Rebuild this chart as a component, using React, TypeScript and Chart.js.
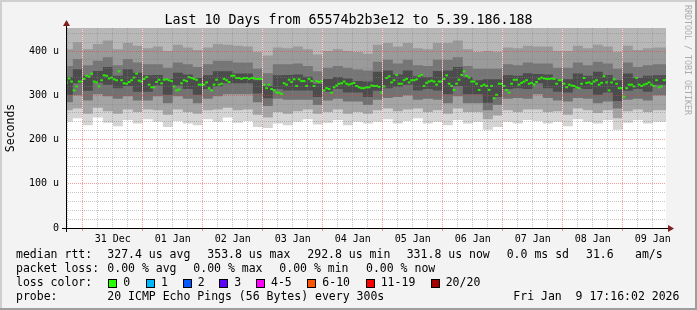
import React, { useEffect, useRef } from 'react';
import { Chart, registerables } from 'chart.js';

Chart.register(...registerables);

// ---------- data (time axis in hours relative to 31 Dec 00:00) ----------
const X_MIN = -6.733; // Fri Dec 30 17:16:02
const X_MAX = 233.267; // Fri Jan 9 17:16:02
const MEDIAN_START_HOUR = -7;
const SMOKE_START_HOUR = -8;
const SMOKE_BIN_HOURS = 4;

// hourly median RTT (microseconds)
const MEDIAN_DEC30 = [329, 338, 331, 311, 320, 331, 331];
const MEDIAN_DEC31 = [337, 344, 342, 349, 331, 329, 320, 334, 345, 344, 338, 340, 336, 334, 354, 334, 327, 326, 330, 334, 340, 349, 333, 331];
const MEDIAN_JAN01 = [337, 341, 324, 318, 318, 330, 335, 327, 335, 336, 334, 332, 320, 311, 313, 327, 334, 332, 341, 339, 337, 335, 324, 324];
const MEDIAN_JAN02 = [324, 329, 316, 311, 324, 335, 324, 326, 337, 334, 330, 344, 344, 339, 339, 337, 339, 339, 337, 339, 339, 337, 337, 337];
const MEDIAN_JAN03 = [324, 316, 324, 314, 311, 306, 306, 303, 327, 324, 335, 330, 336, 321, 336, 332, 332, 321, 337, 332, 321, 332, 330, 332];
const MEDIAN_JAN04 = [311, 316, 314, 306, 318, 322, 326, 327, 331, 326, 324, 326, 328, 321, 318, 316, 316, 318, 318, 322, 321, 321, 319, 306];
const MEDIAN_JAN05 = [320, 339, 343, 329, 334, 346, 326, 326, 334, 337, 329, 334, 334, 336, 343, 346, 321, 328, 331, 333, 331, 324, 331, 331];
const MEDIAN_JAN06 = [337, 345, 326, 321, 312, 326, 335, 346, 354, 344, 340, 331, 331, 326, 312, 321, 324, 321, 312, 321, 293, 301, 326, 326];
const MEDIAN_JAN07 = [321, 312, 306, 326, 335, 335, 324, 328, 331, 334, 326, 328, 324, 330, 337, 340, 338, 337, 337, 338, 337, 326, 334, 334];
const MEDIAN_JAN08 = [326, 318, 324, 322, 321, 318, 316, 326, 339, 328, 329, 326, 331, 334, 324, 328, 343, 329, 311, 329, 336, 326, 316, 316];
const MEDIAN_JAN09 = [297, 316, 324, 324, 320, 339, 324, 321, 324, 326, 329, 324, 321, 334, 318, 320, 334, 335];

// smoke: ping distribution boundaries per 4-hour bin (microseconds)
const SMOKE_P0 = [236, 240, 248, 232, 250, 238, 230, 244, 236, 246, 240, 228, 242, 236, 232, 246, 240, 250, 238, 242, 228, 226, 236, 232, 240, 246, 234, 238, 244, 232, 240, 236, 240, 246, 236, 242, 248, 236, 240, 232, 244, 236, 240, 222, 228, 240, 236, 244, 242, 236, 240, 230, 246, 240, 236, 244, 222, 238, 244, 236, 240];
const SMOKE_P1 = [262, 266, 270, 258, 272, 264, 258, 268, 262, 268, 266, 256, 268, 262, 258, 266, 268, 272, 266, 268, 256, 250, 262, 258, 264, 268, 258, 262, 268, 258, 262, 258, 266, 270, 264, 268, 270, 262, 266, 258, 270, 262, 262, 246, 254, 266, 262, 268, 268, 262, 264, 256, 270, 266, 260, 266, 248, 264, 268, 262, 266];
const SMOKE_P2 = [294, 284, 300, 288, 302, 298, 292, 298, 288, 288, 298, 282, 298, 292, 282, 292, 298, 302, 302, 302, 284, 276, 292, 290, 290, 290, 278, 288, 292, 286, 286, 278, 290, 294, 296, 300, 290, 292, 290, 282, 298, 282, 282, 266, 278, 292, 294, 292, 302, 294, 288, 286, 294, 292, 282, 286, 270, 290, 292, 288, 300];
const SMOKE_P3 = [319, 301, 327, 310, 328, 324, 316, 321, 308, 308, 322, 301, 322, 314, 301, 314, 320, 327, 327, 327, 304, 293, 314, 311, 311, 311, 296, 308, 314, 306, 306, 296, 310, 316, 319, 324, 311, 314, 311, 302, 321, 302, 302, 283, 296, 314, 316, 314, 327, 316, 308, 306, 316, 314, 301, 306, 287, 310, 314, 308, 324];
const SMOKE_P4 = [348, 341, 359, 344, 355, 364, 344, 359, 351, 345, 346, 337, 351, 347, 339, 345, 354, 354, 349, 349, 334, 321, 345, 346, 347, 342, 326, 337, 341, 338, 332, 331, 353, 356, 347, 356, 343, 341, 355, 356, 364, 341, 334, 336, 336, 345, 344, 350, 348, 347, 336, 336, 349, 344, 353, 346, 334, 349, 339, 344, 345];
const SMOKE_P5 = [372, 366, 382, 368, 378, 386, 368, 382, 374, 370, 370, 362, 374, 370, 364, 370, 378, 378, 374, 374, 360, 350, 370, 370, 372, 366, 354, 362, 366, 362, 358, 356, 376, 380, 372, 380, 368, 366, 380, 380, 386, 366, 360, 360, 360, 370, 368, 374, 372, 372, 362, 362, 374, 368, 376, 372, 360, 374, 364, 368, 370];
const SMOKE_P6 = [408, 404, 420, 404, 416, 424, 404, 418, 412, 406, 410, 400, 414, 408, 402, 408, 416, 414, 412, 410, 398, 390, 408, 406, 410, 404, 392, 400, 404, 400, 398, 394, 414, 418, 410, 418, 406, 404, 418, 418, 424, 404, 398, 400, 398, 408, 406, 412, 410, 410, 400, 400, 412, 406, 414, 410, 398, 412, 402, 406, 408];

const DAY_LABELS = ['31 Dec', '01 Jan', '02 Jan', '03 Jan', '04 Jan', '05 Jan', '06 Jan', '07 Jan', '08 Jan', '09 Jan'];
const Y_TICK_LABELS = ['0', '100 u', '200 u', '300 u', '400 u'];

const TITLE = 'Last 10 Days from 65574b2b3e12 to 5.39.186.188';
const WATERMARK = 'RRDTOOL / TOBI OETIKER';
const Y_TITLE = 'Seconds';
const LEGEND_RTT = ['median rtt:', '327.4 us avg', '353.8 us max', '292.8 us min', '331.8 us now', '0.0 ms sd', '31.6', 'am/s'];
const LEGEND_LOSS = ['packet loss:', '0.00 % avg', '0.00 % max', '0.00 % min', '0.00 % now'];
const LOSS_TITLE = 'loss color:';
const LOSS_LABELS = ['0', '1', '2', '3', '4-5', '6-10', '11-19', '20/20'];
const LOSS_COLORS = ['#26ff00', '#00b8ff', '#0059ff', '#5e00ff', '#ff00ff', '#ff5500', '#ff0000', '#a10000'];
const PROBE = ['probe:', '20 ICMP Echo Pings (56 Bytes) every 300s', 'Fri Jan  9 17:16:02 2026'];

// ---------- layout / style ----------
const W = 697;
const H = 310;
const MONO = '"DejaVu Sans Mono", monospace';
const MAJOR_GRID = 'rgba(230,60,60,0.5)';
const MINOR_GRID = 'rgba(130,130,130,0.45)';
const RTT_X = [16, 107.3, 207.3, 307.3, 406.7, 506.7, 586, 635];
const LOSS_X = [16, 107.3, 193.3, 279.3, 366];
const BOX_X = [108.3, 146, 182.7, 219.3, 256, 307.3, 365.7, 430.7];
const PROBE_X = [16, 107.3, 513.3];

const MEDIAN = [
  ...MEDIAN_DEC30, ...MEDIAN_DEC31, ...MEDIAN_JAN01, ...MEDIAN_JAN02, ...MEDIAN_JAN03,
  ...MEDIAN_JAN04, ...MEDIAN_JAN05, ...MEDIAN_JAN06, ...MEDIAN_JAN07, ...MEDIAN_JAN08, ...MEDIAN_JAN09,
];

const rrdPlugin = {
  id: 'rrdDecor',
  beforeDraw(chart: any) {
    const { ctx, chartArea: a } = chart;
    ctx.save();
    ctx.fillStyle = '#f3f3f3';
    ctx.fillRect(0, 0, W, H);
    ctx.fillStyle = '#cfcfcf';
    ctx.fillRect(0, 0, W, 2);
    ctx.fillRect(0, 0, 2, H);
    ctx.fillStyle = '#9e9e9e';
    ctx.fillRect(0, H - 2, W, 2);
    ctx.fillRect(W - 2, 0, 2, H);
    ctx.fillStyle = '#ffffff';
    ctx.fillRect(a.left, a.top, a.right - a.left, a.bottom - a.top);
    ctx.restore();
  },
  afterDatasetsDraw(chart: any) {
    const { ctx, chartArea: a, scales } = chart;
    const xs = scales.x;
    const ys = scales.y;
    ctx.save();
    ctx.strokeStyle = 'rgba(255,246,246,0.75)';
    ctx.lineWidth = 1;
    const yBottom = ys.getPixelForValue(236);
    for (let h = 0; h <= 216; h += 24) {
      const px = Math.round(xs.getPixelForValue(h) - 0.5) + 0.5;
      ctx.beginPath();
      ctx.moveTo(px, a.top);
      ctx.lineTo(px, yBottom);
      ctx.stroke();
    }
    ctx.restore();
  },
  afterDraw(chart: any) {
    const { ctx, chartArea: a } = chart;
    ctx.save();
    // axes
    const ax = a.left + 0.5;
    const ay = a.bottom + 0.5;
    ctx.strokeStyle = '#000';
    ctx.lineWidth = 1;
    ctx.beginPath();
    ctx.moveTo(a.left - 4, ay);
    ctx.lineTo(a.right + 3, ay);
    ctx.stroke();
    ctx.beginPath();
    ctx.moveTo(ax, a.bottom + 4);
    ctx.lineTo(ax, a.top - 3);
    ctx.stroke();
    ctx.fillStyle = '#7f1f1f';
    ctx.beginPath();
    ctx.moveTo(a.right + 8, ay);
    ctx.lineTo(a.right + 2, ay - 3.5);
    ctx.lineTo(a.right + 2, ay + 3.5);
    ctx.closePath();
    ctx.fill();
    ctx.beginPath();
    ctx.moveTo(ax, a.top - 8);
    ctx.lineTo(ax - 3.5, a.top - 2);
    ctx.lineTo(ax + 3.5, a.top - 2);
    ctx.closePath();
    ctx.fill();

    // title
    ctx.fillStyle = '#000';
    ctx.textBaseline = 'alphabetic';
    ctx.textAlign = 'center';
    ctx.font = `13.3px ${MONO}`;
    ctx.fillText(TITLE, W / 2, 24);

    // watermark
    ctx.save();
    ctx.translate(685, 5);
    ctx.rotate(Math.PI / 2);
    ctx.textAlign = 'left';
    ctx.fillStyle = '#acacac';
    ctx.font = `8.3px ${MONO}`;
    ctx.fillText(WATERMARK, 0, 0);
    ctx.restore();

    // y title
    ctx.save();
    ctx.translate(14, (a.top + a.bottom) / 2);
    ctx.rotate(-Math.PI / 2);
    ctx.textAlign = 'center';
    ctx.fillStyle = '#000';
    ctx.font = `11.5px ${MONO}`;
    ctx.fillText(Y_TITLE, 0, 0);
    ctx.restore();

    // legend
    ctx.textAlign = 'left';
    ctx.fillStyle = '#000';
    ctx.font = `11.5px ${MONO}`;
    LEGEND_RTT.forEach((t, i) => ctx.fillText(t, RTT_X[i], 258));
    LEGEND_LOSS.forEach((t, i) => ctx.fillText(t, LOSS_X[i], 272));
    ctx.fillText(LOSS_TITLE, 16, 286);
    LOSS_LABELS.forEach((t, i) => {
      const bx = Math.round(BOX_X[i]) + 0.5;
      ctx.fillStyle = LOSS_COLORS[i];
      ctx.fillRect(bx, 279.5, 8, 8);
      ctx.strokeStyle = '#000';
      ctx.strokeRect(bx, 279.5, 8, 8);
      ctx.fillStyle = '#000';
      ctx.fillText(t, BOX_X[i] + 15, 286);
    });
    PROBE.forEach((t, i) => ctx.fillText(t, PROBE_X[i], 300));
    ctx.restore();
  },
};

export default function App() {
  const ref = useRef<HTMLCanvasElement>(null);

  useEffect(() => {
    const canvas = ref.current;
    if (!canvas) return;
    Chart.defaults.font.family = MONO;

    const bandPoints = (vals: number[]) => {
      const pts = vals.map((v, k) => ({ x: SMOKE_START_HOUR + k * SMOKE_BIN_HOURS, y: v }));
      pts.push({ x: X_MAX, y: vals[vals.length - 1] });
      return pts;
    };
    const bands = [SMOKE_P6, SMOKE_P5, SMOKE_P4, SMOKE_P3, SMOKE_P2, SMOKE_P1, SMOKE_P0];
    const bandColors = ['#b8b8b8', '#9a9a9a', '#767676', '#4c4c4c', '#727272', '#a4a4a4', '#d4d4d4'];

    const datasets: any[] = [
      {
        label: 'median',
        data: MEDIAN.map((v, i) => ({ x: MEDIAN_START_HOUR + i + 0.5, y: v })),
        showLine: false,
        pointStyle: 'line',
        pointRadius: 1.35,
        pointBorderWidth: 2,
        pointBorderColor: '#26f000',
        pointBackgroundColor: '#26f000',
        order: 0,
      },
      ...bands.map((vals, j) => ({
        label: 'smoke' + j,
        data: bandPoints(vals),
        stepped: 'after',
        fill: 'end',
        backgroundColor: bandColors[j],
        borderColor: 'rgba(0,0,0,0)',
        borderWidth: 0,
        pointRadius: 0,
        order: 1,
      })),
    ];

    const chart = new Chart(canvas, {
      type: 'line',
      data: { datasets },
      plugins: [rrdPlugin],
      options: {
        animation: false,
        responsive: false,
        devicePixelRatio: 1,
        events: [],
        layout: { padding: { top: 28, right: 31, bottom: 0, left: 0 } },
        plugins: { legend: { display: false }, tooltip: { enabled: false }, title: { display: false } },
        scales: {
          x: {
            type: 'linear',
            min: X_MIN,
            max: X_MAX,
            afterBuildTicks: (s: any) => {
              const t: any[] = [];
              for (let v = -6; v <= X_MAX; v += 6) t.push({ value: v });
              s.ticks = t;
            },
            afterFit: (s: any) => {
              s.height = 82;
            },
            ticks: {
              autoSkip: false,
              maxRotation: 0,
              minRotation: 0,
              padding: 2,
              color: '#000',
              font: { family: MONO, size: 10 },
              callback: (v: any) => ((v - 12) % 24 === 0 ? DAY_LABELS[(v - 12) / 24] : ''),
            },
            grid: {
              z: 1,
              lineWidth: 1,
              drawTicks: true,
              tickLength: 3,
              color: (c: any) => (c.tick && c.tick.value % 24 === 0 ? MAJOR_GRID : MINOR_GRID),
              tickColor: (c: any) => (c.tick && c.tick.value % 24 === 0 ? MAJOR_GRID : 'rgba(0,0,0,0)'),
            },
            border: { display: false, dash: [1, 1] },
          },
          y: {
            type: 'linear',
            min: 0,
            max: 452,
            afterBuildTicks: (s: any) => {
              const t: any[] = [];
              for (let v = 0; v <= 440; v += 20) t.push({ value: v });
              s.ticks = t;
            },
            afterFit: (s: any) => {
              s.width = 66;
            },
            ticks: {
              autoSkip: false,
              padding: 7,
              color: '#000',
              font: { family: MONO, size: 10 },
              callback: (v: any) => (v % 100 === 0 ? Y_TICK_LABELS[v / 100] : ''),
            },
            grid: {
              z: 1,
              drawTicks: false,
              lineWidth: 1,
              color: (c: any) => (c.tick && c.tick.value % 100 === 0 ? MAJOR_GRID : MINOR_GRID),
            },
            border: { display: false, dash: [1, 1] },
          },
        },
      } as any,
    });

    return () => chart.destroy();
  }, []);

  return (
    <div style={{ position: 'absolute', left: 0, top: 0, width: W, height: H }}>
      <canvas ref={ref} width={W} height={H} style={{ display: 'block', width: W, height: H }} />
    </div>
  );
}
